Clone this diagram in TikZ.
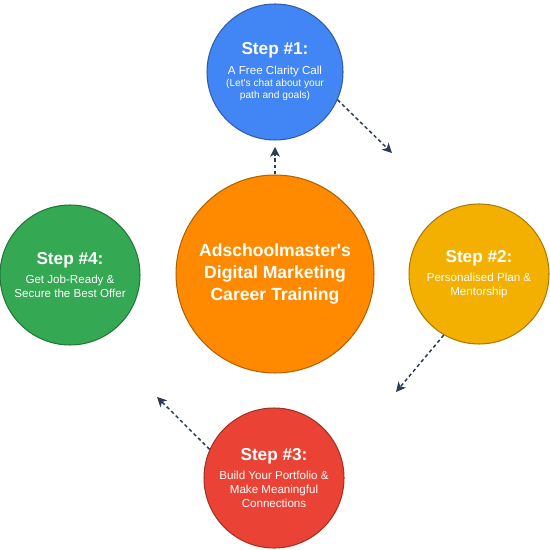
\documentclass[tikz,border=0pt]{standalone}
\usepackage{fontspec}
\setmainfont{Liberation Sans}
\usetikzlibrary{arrows.meta}

\definecolor{stepblue}{HTML}{4285F4}
\definecolor{stepyellow}{HTML}{F4B000}
\definecolor{stepred}{HTML}{EA4335}
\definecolor{stepgreen}{HTML}{34A853}
\definecolor{huborange}{HTML}{FF8A00}
\definecolor{arrownavy}{HTML}{2B3A55}

\newcommand{\steptitle}[1]{{\fontsize{9.8}{12}\selectfont\bfseries #1}}

\begin{document}
\begin{tikzpicture}[x=0.02cm, y=-0.02cm,
    stepball/.style={circle, draw=#1!70!black, fill=#1, line width=0.6pt,
        minimum size=2.8cm, inner sep=0pt, text=white, align=center,
        font=\fontsize{6.6}{8}\selectfont},
    flow/.style={arrownavy, line width=0.85pt, dash pattern=on 2pt off 1.6pt,
        -{Stealth[length=5.5pt, width=5.5pt, inset=1.5pt]}}
]
    \useasboundingbox (0,0) rectangle (550,550);

    % Hub in the middle
    \node[stepball=huborange, minimum size=3.96cm,
        font=\fontsize{10}{12.5}\selectfont\bfseries] (hub) at (275,274)
        {Adschoolmaster\textquotesingle s\\Digital Marketing\\Career Training};

    % The four steps round it
    \node[stepball=stepblue, minimum size=2.72cm] (step1) at (275,72)
        {\steptitle{Step \#1:}\\[3pt]A Free Clarity Call\\[-1pt]
         {\fontsize{5.8}{7}\selectfont (Let\textquotesingle s chat about your}\\[-1pt]
         {\fontsize{5.8}{7}\selectfont path and goals)}};
    \node[stepball=stepyellow] (step2) at (479,274)
        {\steptitle{Step \#2:}\\[3pt]Personalised Plan \&\\Mentorship};
    \node[stepball=stepred] (step3) at (274,478)
        {\steptitle{Step \#3:}\\[3pt]Build Your Portfolio \&\\Make Meaningful\\Connections};
    \node[stepball=stepgreen] (step4) at (70,275)
        {\steptitle{Step \#4:}\\[3pt]Get Job-Ready \&\\Secure the Best Offer};

    % Loose ends of the arrows
    \coordinate (tip0) at (275,147);
    \coordinate (tip1) at (392,153);
    \coordinate (tip2) at (396,392);
    \coordinate (tip3) at (157,397);

    % Dashed arrows
    \draw[flow] (hub.north) -- (tip0);
    \draw[flow] (step1.-24) -- (tip1);
    \draw[flow] (step2.-120) -- (tip2);
    \draw[flow] (step3.156) -- (tip3);
\end{tikzpicture}
\end{document}
